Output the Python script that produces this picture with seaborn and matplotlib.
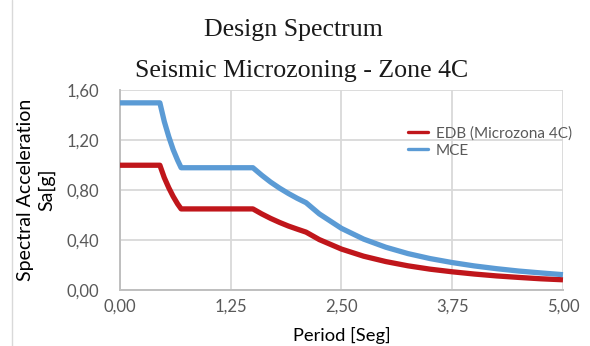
import matplotlib
matplotlib.use("Agg")
import matplotlib.pyplot as plt
from matplotlib.lines import Line2D
import seaborn as sns
import pandas as pd

# Spectral ordinates (period in seconds, acceleration in g)
periods = [0.00, 0.45, 0.50, 0.55, 0.60, 0.65, 0.69, 1.50, 1.60, 1.70, 1.80,
           1.90, 2.00, 2.10, 2.25, 2.50, 2.75, 3.00, 3.25, 3.50, 3.75, 4.00,
           4.25, 4.50, 4.75, 5.00]
sa_edb = [1.00, 1.00, 0.90, 0.82, 0.75, 0.69, 0.65, 0.65, 0.61, 0.574, 0.542,
          0.513, 0.488, 0.464, 0.404, 0.328, 0.271, 0.228, 0.194, 0.167, 0.146,
          0.128, 0.113, 0.101, 0.090, 0.082]
sa_mce = [1.50, 1.50, 1.35, 1.23, 1.125, 1.04, 0.98, 0.98, 0.92, 0.865, 0.817,
          0.774, 0.735, 0.70, 0.61, 0.494, 0.408, 0.343, 0.292, 0.252, 0.220,
          0.193, 0.171, 0.152, 0.137, 0.123]

series_names = ["EDB (Microzona 4C)", "MCE"]
series_colors = ["#C0161B", "#5B9BD5"]

x_ticks = [0.00, 1.25, 2.50, 3.75, 5.00]
x_tick_labels = ["0,00", "1,25", "2,50", "3,75", "5,00"]
y_ticks = [0.00, 0.40, 0.80, 1.20, 1.60]
y_tick_labels = ["0,00", "0,40", "0,80", "1,20", "1,60"]

title_lines = ["Design Spectrum", "Seismic Microzoning - Zone 4C"]
x_label = "Period [Seg]"
y_label = "Spectral Acceleration\nSa[g]"

df = pd.DataFrame({
    "Period": periods * 2,
    "Sa": sa_edb + sa_mce,
    "Series": [series_names[0]] * len(periods) + [series_names[1]] * len(periods),
})

sns.set_style("white")
plt.rcParams["font.family"] = ["Lato", "DejaVu Sans"]

fig = plt.figure(figsize=(5.90, 3.46), dpi=100)
ax = fig.add_axes([0.2034, 0.1618, 0.7508, 0.5770])

sns.lineplot(data=df, x="Period", y="Sa", hue="Series",
             palette=dict(zip(series_names, series_colors)),
             linewidth=3.8, ax=ax, legend=False, zorder=3,
             solid_capstyle="butt", solid_joinstyle="round")
for ln in ax.lines:
    ln.set_clip_on(False)

ax.set_xlim(0, 5)
ax.set_ylim(0, 1.6)
ax.set_xticks(x_ticks)
ax.set_xticklabels(x_tick_labels)
ax.set_yticks(y_ticks)
ax.set_yticklabels(y_tick_labels)
ax.tick_params(axis="both", length=0, labelsize=12, labelcolor="#595959")
ax.tick_params(axis="x", pad=6)
ax.tick_params(axis="y", pad=15)

ax.grid(True, color="#D9D9D9", linewidth=1.3)
ax.set_axisbelow(True)
for side in ["top", "right"]:
    ax.spines[side].set_visible(False)
for side in ["left", "bottom"]:
    ax.spines[side].set_color("#BFBFBF")
    ax.spines[side].set_linewidth(1.4)

ax.set_xlabel(x_label, fontsize=13.2, color="black", labelpad=9)
ax.set_ylabel("")
fig.text(0.061, 0.451, y_label, rotation=90, ha="center", va="center",
         fontsize=14, color="black", linespacing=1.3, multialignment="center")

# Two-line serif title
fig.text(0.497, 0.896, title_lines[0], ha="center", va="baseline",
         family="Liberation Serif", fontsize=18.6, color="#1a1a1a")
fig.text(0.511, 0.777, title_lines[1], ha="center", va="baseline",
         family="Liberation Serif", fontsize=18.6, color="#1a1a1a")

handles = [Line2D([0], [0], color=c, linewidth=2.4) for c in series_colors]
fig.legend(handles, series_names, loc="upper left",
           bbox_to_anchor=(0.692, 0.636), frameon=False, fontsize=11,
           labelcolor="#595959", handlelength=1.3, handletextpad=0.5,
           labelspacing=0.22, borderaxespad=0, borderpad=0)

# Chart frame edge on the left
fig.add_artist(Line2D([0.0203, 0.0203], [0.0, 1.0], color="#D9D9D9",
                      linewidth=1.0, transform=fig.transFigure))

fig.savefig("out.png", dpi=100)
